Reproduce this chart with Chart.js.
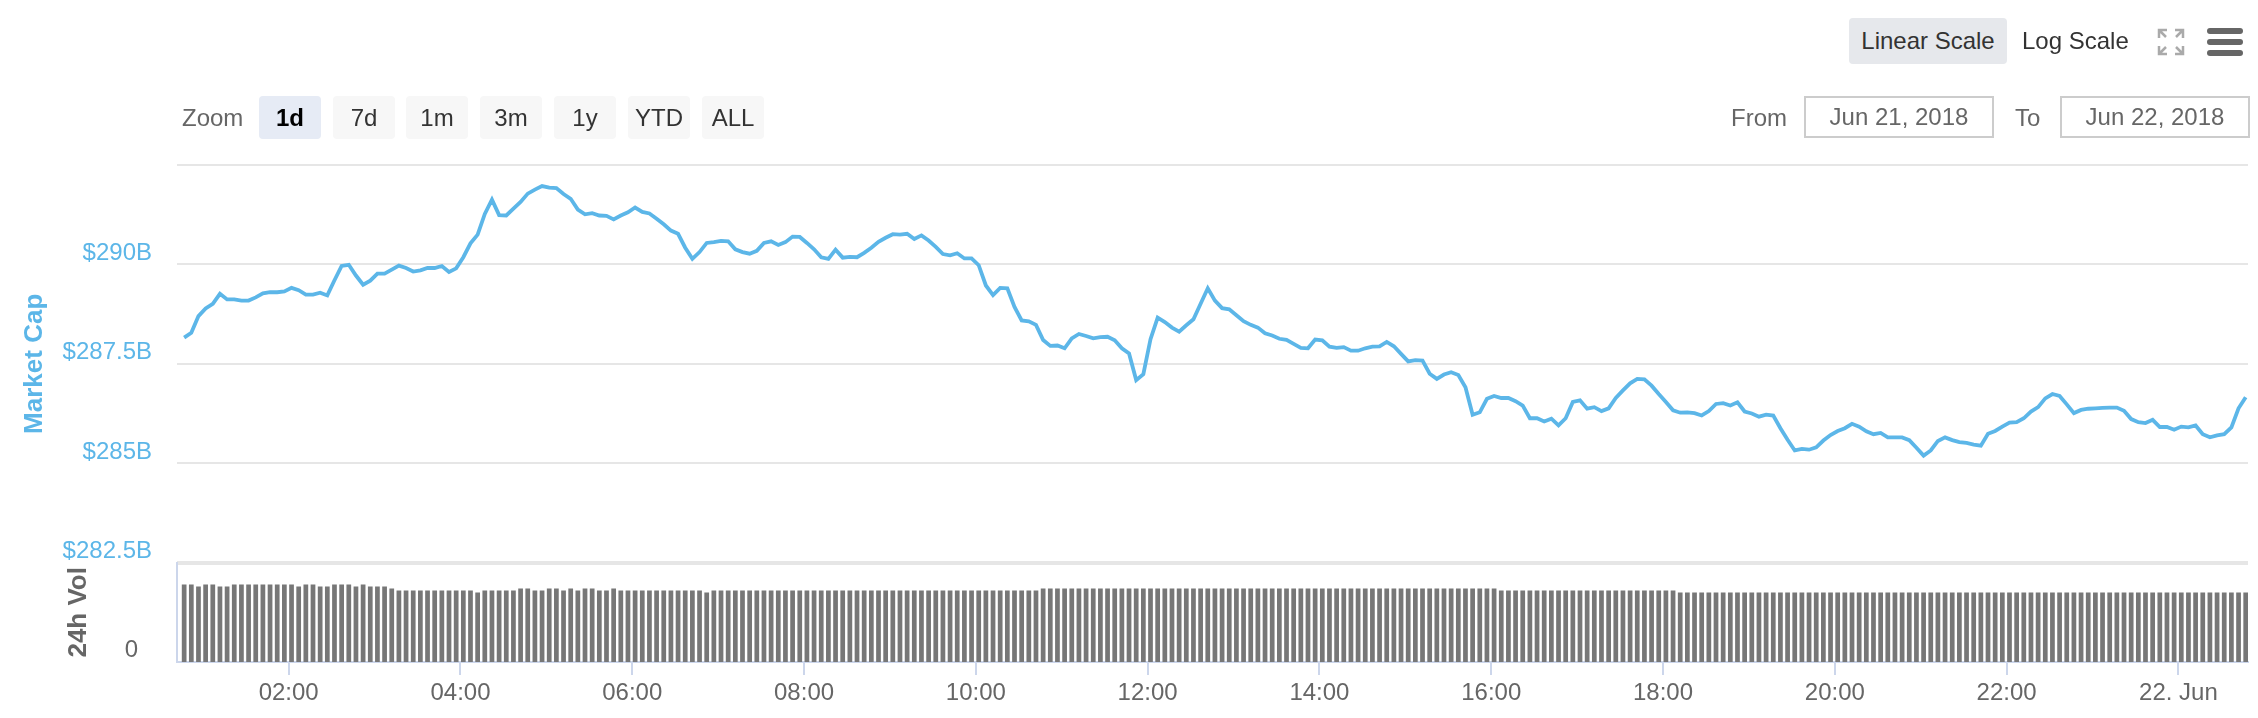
<!DOCTYPE html>
<html>
<head>
<meta charset="utf-8">
<title>Market Cap</title>
<script src="https://cdn.jsdelivr.net/npm/chart.js@4.4.1/dist/chart.umd.min.js"></script>
<style>
  html, body { margin: 0; padding: 0; background: #fff; }
  body { width: 2258px; height: 718px; position: relative; overflow: hidden;
         font-family: "Liberation Sans", Arial, sans-serif; }
  #wrap { position: absolute; left: 0; top: 0; width: 2258px; height: 718px; }
  .abs { position: absolute; font-size: 24px; white-space: nowrap; }
  .btn { height: 43px; line-height: 43px; width: 62px; text-align: center; color: #333;
         background: #f7f7f7; border-radius: 4px; top: 96px; }
  .btn.on { background: #e6ebf5; color: #000; font-weight: bold; }
  .lbl { top: 96px; height: 43px; line-height: 43px; color: #666; }
  .date { top: 96px; height: 42px; line-height: 38px; box-sizing: border-box; border: 2px solid #ccc;
          text-align: center; color: #666; }
  .bar3 { position: absolute; left: 0; width: 36px; height: 6px; border-radius: 3px; background: #666; }
</style>
</head>
<body>
<div id="wrap"><canvas id="chart"></canvas></div>

<!-- toolbar -->
<div class="abs" style="left:1849px;top:18px;width:158px;height:46px;line-height:46px;text-align:center;background:#e6e8ec;border-radius:4px;color:#333;">Linear Scale</div>
<div class="abs" style="left:2022px;top:18px;height:46px;line-height:46px;color:#333;">Log Scale</div>
<svg class="abs" style="left:2157px;top:28px" width="28" height="28" viewBox="0 0 28 28">
  <g fill="none" stroke="#aaa" stroke-width="2.5">
    <path d="M2 10 V2 H10 M2 2 L9 9"/>
    <path d="M18 2 H26 V10 M26 2 L19 9"/>
    <path d="M2 18 V26 H10 M2 26 L9 19"/>
    <path d="M26 18 V26 H18 M26 26 L19 19"/>
  </g>
</svg>
<div class="abs" style="left:2207px;top:28px;width:36px;height:28px;">
  <div class="bar3" style="top:0"></div>
  <div class="bar3" style="top:11px"></div>
  <div class="bar3" style="top:22px"></div>
</div>

<div class="abs lbl" style="left:182px;">Zoom</div>
<div class="abs btn on" style="left:259px;">1d</div>
<div class="abs btn" style="left:333px;">7d</div>
<div class="abs btn" style="left:406px;">1m</div>
<div class="abs btn" style="left:480px;">3m</div>
<div class="abs btn" style="left:554px;">1y</div>
<div class="abs btn" style="left:628px;">YTD</div>
<div class="abs btn" style="left:702px;">ALL</div>

<div class="abs lbl" style="left:1731px;">From</div>
<div class="abs date" style="left:1804px;width:190px;">Jun 21, 2018</div>
<div class="abs lbl" style="left:2015px;">To</div>
<div class="abs date" style="left:2060px;width:190px;">Jun 22, 2018</div>

<script>
// time of first sample (hours after Jun 21 00:00) and sample step, minutes
const startHour = 0.7833;
const stepMinutes = 5;

// market cap, $B, every 5 minutes
const marketCap = [
  288.16, 288.28, 288.70, 288.89, 289.01, 289.26, 289.12, 289.12, 289.09, 289.09,
  289.17, 289.27, 289.30, 289.30, 289.32, 289.41, 289.35, 289.24, 289.24, 289.29,
  289.22, 289.60, 289.96, 289.99, 289.72, 289.49, 289.59, 289.77, 289.77, 289.87,
  289.97, 289.91, 289.82, 289.85, 289.91, 289.91, 289.96, 289.81, 289.90, 290.18,
  290.53, 290.75, 291.27, 291.63, 291.24, 291.23, 291.40, 291.57, 291.78, 291.88,
  291.97, 291.93, 291.92, 291.77, 291.65, 291.38, 291.26, 291.29, 291.23, 291.22,
  291.13, 291.23, 291.31, 291.43, 291.32, 291.28, 291.15, 291.01, 290.85, 290.77,
  290.42, 290.14,
  290.31, 290.54, 290.56, 290.59, 290.58, 290.38, 290.31, 290.27, 290.34, 290.54,
  290.58, 290.49, 290.56, 290.70, 290.69, 290.54, 290.38, 290.18, 290.14, 290.37,
  290.17, 290.19, 290.18, 290.29, 290.42, 290.57, 290.67, 290.76, 290.75, 290.77,
  290.64, 290.73, 290.60, 290.44, 290.26, 290.23, 290.28, 290.15, 290.15, 289.98,
  289.47, 289.23, 289.41, 289.40, 288.93, 288.59, 288.57, 288.48, 288.10, 287.95,
  287.96, 287.89, 288.14, 288.25, 288.20, 288.14, 288.17, 288.18, 288.09, 287.89,
  287.76, 287.09, 287.24, 288.12, 288.66, 288.55, 288.41, 288.31, 288.47, 288.62,
  289.01, 289.40,
  289.09, 288.90, 288.87, 288.72, 288.57, 288.48, 288.41, 288.27, 288.21, 288.13,
  288.10, 288.00, 287.90, 287.89, 288.11, 288.09, 287.93, 287.90, 287.92, 287.83,
  287.83, 287.89, 287.93, 287.94, 288.05, 287.94, 287.75, 287.56, 287.59, 287.58,
  287.25, 287.12, 287.23, 287.29, 287.22, 286.91, 286.22, 286.28, 286.62, 286.69,
  286.64, 286.64, 286.56, 286.45, 286.13, 286.13, 286.05, 286.12, 285.95, 286.13,
  286.54, 286.58, 286.37, 286.41, 286.31, 286.38, 286.64, 286.83, 287.01, 287.12,
  287.11, 286.95, 286.74, 286.54, 286.33, 286.27, 286.28, 286.26, 286.20, 286.31,
  286.49,
  286.51, 286.45, 286.53, 286.30, 286.25, 286.17, 286.22, 286.20, 285.88, 285.59,
  285.32, 285.36, 285.34, 285.40, 285.57, 285.71, 285.81, 285.88, 285.99, 285.92,
  285.80, 285.73, 285.76, 285.65, 285.65, 285.65, 285.58, 285.39, 285.19, 285.32,
  285.56, 285.65, 285.58, 285.53, 285.51, 285.47, 285.44, 285.74, 285.81, 285.92,
  286.02, 286.03, 286.13, 286.30, 286.41, 286.63, 286.74, 286.69, 286.48, 286.26,
  286.34, 286.37, 286.38, 286.39, 286.40, 286.40, 286.32, 286.11, 286.03, 286.01,
  286.09, 285.91, 285.91, 285.84, 285.92, 285.90, 285.95, 285.73, 285.65, 285.70,
  285.73, 285.90, 286.38, 286.66
];

// 24h volume, $B, same samples
const volume24h = [
  15.6, 15.6, 15.2, 15.6, 15.6, 15.2, 15.2, 15.6, 15.6, 15.6,
  15.6, 15.6, 15.6, 15.6, 15.6, 15.6, 15.2, 15.6, 15.6, 15.2,
  15.2, 15.6, 15.6, 15.6, 15.2, 15.6, 15.2, 15.2, 15.2, 14.8,
  14.4, 14.4, 14.4, 14.4, 14.4, 14.4, 14.4, 14.4, 14.4, 14.4,
  14.4, 14.0, 14.4, 14.4, 14.4, 14.4, 14.4, 14.8, 14.8, 14.4,
  14.4, 14.8, 14.8, 14.4, 14.8, 14.4, 14.8, 14.8, 14.4, 14.4,
  14.8, 14.4, 14.4, 14.4, 14.4, 14.4, 14.4, 14.4, 14.4, 14.4,
  14.4, 14.4, 14.4, 14.0, 14.4, 14.4, 14.4, 14.4, 14.4, 14.4,
  14.4, 14.4, 14.4, 14.4, 14.4, 14.4, 14.4, 14.4, 14.4, 14.4,
  14.4, 14.4, 14.4, 14.4, 14.4, 14.4, 14.4, 14.4, 14.4, 14.4,
  14.4, 14.4, 14.4, 14.4, 14.4, 14.4, 14.4, 14.4, 14.4, 14.4,
  14.4, 14.4, 14.4, 14.4, 14.4, 14.4, 14.4, 14.4, 14.4, 14.4,
  14.8, 14.8, 14.8, 14.8, 14.8, 14.8, 14.8, 14.8, 14.8, 14.8,
  14.8, 14.8, 14.8, 14.8, 14.8, 14.8, 14.8, 14.8, 14.8, 14.8,
  14.8, 14.8, 14.8, 14.8, 14.8, 14.8, 14.8, 14.8, 14.8, 14.8,
  14.8, 14.8, 14.8, 14.8, 14.8, 14.8, 14.8, 14.8, 14.8, 14.8,
  14.8, 14.8, 14.8, 14.8, 14.8, 14.8, 14.8, 14.8, 14.8, 14.8,
  14.8, 14.8, 14.8, 14.8, 14.8, 14.8, 14.8, 14.8, 14.8, 14.8,
  14.8, 14.8, 14.8, 14.8, 14.4, 14.4, 14.4, 14.4, 14.4, 14.4,
  14.4, 14.4, 14.4, 14.4, 14.4, 14.4, 14.4, 14.4, 14.4, 14.4,
  14.4, 14.4, 14.4, 14.4, 14.4, 14.4, 14.4, 14.4, 14.4, 14.0,
  14.0, 14.0, 14.0, 14.0, 14.0, 14.0, 14.0, 14.0, 14.0, 14.0,
  14.0, 14.0, 14.0, 14.0, 14.0, 14.0, 14.0, 14.0, 14.0, 14.0,
  14.0, 14.0, 14.0, 14.0, 14.0, 14.0, 14.0, 14.0, 14.0, 14.0,
  14.0, 14.0, 14.0, 14.0, 14.0, 14.0, 14.0, 14.0, 14.0, 14.0,
  14.0, 14.0, 14.0, 14.0, 14.0, 14.0, 14.0, 14.0, 14.0, 14.0,
  14.0, 14.0, 14.0, 14.0, 14.0, 14.0, 14.0, 14.0, 14.0, 14.0,
  14.0, 14.0, 14.0, 14.0, 14.0, 14.0, 14.0, 14.0, 14.0, 14.0,
  14.0, 14.0, 14.0, 14.0, 14.0, 14.0, 14.0, 14.0, 14.0
];

// axis ticks
const tickHours = [2, 4, 6, 8, 10, 12, 14, 16, 18, 20, 22, 24];
const tickLabels = ["02:00", "04:00", "06:00", "08:00", "10:00", "12:00",
                    "14:00", "16:00", "18:00", "20:00", "22:00", "22. Jun"];
const capTicks = [282.5, 285, 287.5, 290, 292.5];
const capTickLabels = ["$282.5B", "$285B", "$287.5B", "$290B", ""];
const volTicks = [0];
const volTickLabels = ["0"];

const X_MIN = 0.70, X_MAX = 24.81;
const BLUE = "#5cb6e8";
const FONT = '"Liberation Sans", Arial, sans-serif';

const hourAt = (i) => startHour + i * stepMinutes / 60;
const capPoints = marketCap.map((v, i) => ({ x: hourAt(i), y: v }));
const volPoints = volume24h.map((v, i) => ({ x: hourAt(i), y: v }));

Chart.defaults.font.family = FONT;

new Chart(document.getElementById("chart"), {
  data: {
    datasets: [
      {
        type: "line",
        label: "Market Cap",
        data: capPoints,
        xAxisID: "x",
        yAxisID: "y",
        borderColor: BLUE,
        borderWidth: 3.8,
        pointRadius: 0,
        tension: 0,
        fill: false,
        order: 0,
      },
      {
        type: "bar",
        label: "24h Vol",
        data: volPoints,
        xAxisID: "x",
        yAxisID: "yVol",
        backgroundColor: "#777777",
        barPercentage: 0.66,
        categoryPercentage: 1,
        order: 1,
      },
    ],
  },
  options: {
    responsive: true,
    maintainAspectRatio: false,
    animation: false,
    layout: { padding: { left: 0, right: 10, top: 165, bottom: 0 } },
    plugins: { legend: { display: false }, tooltip: { enabled: false } },
    scales: {
      x: {
        type: "linear",
        position: "bottom",
        offset: false,
        min: X_MIN,
        max: X_MAX,
        afterBuildTicks: (a) => { a.ticks = tickHours.map((v) => ({ value: v })); },
        afterFit: (a) => { a.height = 56; },
        ticks: {
          callback: (v) => tickLabels[tickHours.indexOf(v)],
          color: "#666",
          font: { size: 24 },
          padding: 4,
          maxRotation: 0,
          autoSkip: false,
        },
        grid: { offset: false, drawOnChartArea: false, drawTicks: true, tickLength: 13, color: "#ccd6eb", lineWidth: 2 },
        border: { display: true, color: "#ccd6eb", width: 2 },
      },
      yVol: {
        type: "linear",
        position: "left",
        stack: "panes",
        stackWeight: 1,
        weight: 0,
        min: 0,
        max: 20,
        afterBuildTicks: (a) => { a.ticks = volTicks.map((v) => ({ value: v })); },
        afterFit: (a) => { a.width = 177; },
        ticks: {
          callback: (v) => volTickLabels[volTicks.indexOf(v)],
          color: "#666",
          font: { size: 24 },
          padding: 31,
          labelOffset: -12,
        },
        grid: { display: false },
        border: { display: true, color: "#ccd6eb", width: 2 },
        title: {
          display: true,
          text: "24h Vol",
          color: "#666",
          font: { size: 26, weight: "bold" },
          padding: { top: 63, bottom: 0 },
        },
      },
      y: {
        type: "linear",
        position: "left",
        stack: "panes",
        stackWeight: 4,
        weight: 1,
        min: 282.5,
        max: 292.5,
        afterBuildTicks: (a) => { a.ticks = capTicks.map((v) => ({ value: v })); },
        afterFit: (a) => { a.width = 177; },
        ticks: {
          callback: (v) => capTickLabels[capTicks.indexOf(v)],
          color: BLUE,
          font: { size: 24 },
          padding: 25,
          labelOffset: -11,
        },
        grid: {
          color: "#e6e6e6",
          lineWidth: (c) => (c.tick && c.tick.value === 282.5 ? 4 : 2),
          drawTicks: false,
        },
        border: { display: false },
        title: {
          display: true,
          text: "Market Cap",
          color: BLUE,
          font: { size: 26, weight: "bold" },
          padding: { top: 19, bottom: 0 },
        },
      },
    },
  },
});
</script>
</body>
</html>
